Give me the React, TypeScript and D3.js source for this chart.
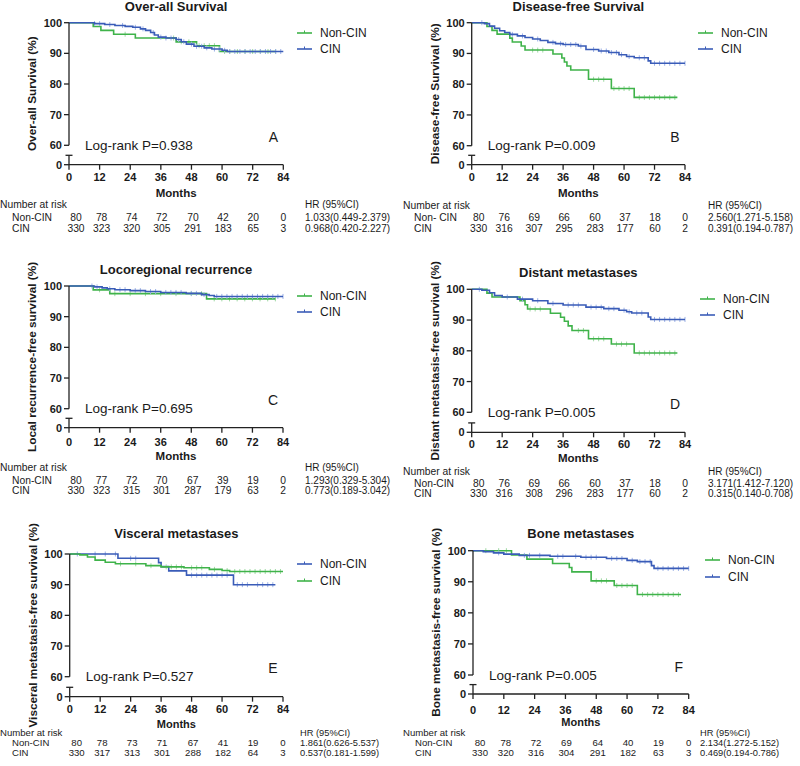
import React from "react";
import * as d3 from "d3";

// ---------- DATA ----------
const months = [0, 12, 24, 36, 48, 60, 72, 84];
const yTicks = [60, 70, 80, 90, 100];

const titles = ["Over-all Survival", "Disease-free Survival", "Locoregional recurrence", "Distant metastases", "Visceral metastases", "Bone metastases"];
const yLabels = ["Over-all Survival (%)", "Disease-free Survival (%)", "Local recurrence-free survival (%)", "Distant metastasis-free survival (%)", "Visceral metastasis-free survival (%)", "Bone metastasis-free survival (%)"];
const pValues = ["0.938", "0.009", "0.695", "0.005", "0.527", "0.005"];
const letters = ["A", "B", "C", "D", "E", "F"];
const nonLabels = ["Non-CIN", "Non- CIN", "Non-CIN", "Non-CIN", "Non-CIN", "Non-CIN"];

// Non-CIN curves (step times, survival %)
const A_non_t = [0, 9.5, 12.5, 17.5, 26, 42, 50, 59];
const A_non_s = [100, 98.75, 97.5, 96.25, 95, 93.75, 92.5, 90.6];
const B_non_t = [0, 6, 8, 10, 15, 16, 19.5, 21, 32, 35.5, 36.5, 37.5, 39, 46, 55, 64];
const B_non_s = [100, 98.75, 97.5, 96.3, 95, 93.7, 92.4, 91.1, 89.8, 88.5, 87.2, 85.9, 84.6, 81.6, 78.6, 75.7];
const C_non_t = [0, 9.5, 16, 54];
const C_non_s = [100, 98.75, 97.5, 95.8];
const D_non_t = [0, 6, 8, 19, 21, 22, 31, 35, 36.5, 38, 39.5, 46, 55, 64];
const D_non_s = [100, 98.75, 97.5, 96.3, 95, 93.6, 92.2, 90.9, 89.6, 88.1, 86.6, 83.9, 82.2, 79.3];
const E_non_t = [0, 19, 35, 36, 39, 46, 64.5];
const E_non_s = [100, 98.6, 97.2, 95.9, 94.5, 93.1, 90.0];
const F_non_t = [0, 15, 21, 31, 37.5, 38.5, 46, 55, 64];
const F_non_s = [100, 98.6, 97.3, 95.9, 94.6, 93.2, 90.3, 88.8, 85.9];

// CIN curves
const A_cin_t = [0, 10, 14, 18, 22, 25, 28, 30, 32, 33.5, 35, 38, 42, 44, 46, 49, 53, 56, 60, 62];
const A_cin_s = [100, 99.7, 99.4, 99.1, 98.8, 98.5, 98.0, 97.5, 96.8, 96.0, 95.3, 95.0, 94.5, 93.8, 93.0, 92.3, 91.8, 91.4, 91.0, 90.6];
const B_cin_t = [0, 5, 7, 9, 11, 13, 15, 18, 21, 24, 27, 30, 33, 36, 42, 45, 50, 54, 58, 61, 64, 69.5, 70.5];
const B_cin_s = [100, 99.7, 98.9, 98.2, 97.4, 96.8, 96.2, 95.7, 95.2, 94.7, 94.2, 93.6, 93.2, 92.9, 92.4, 91.3, 90.8, 90.3, 89.6, 89.0, 88.6, 87.6, 86.8];
const C_cin_t = [0, 10, 13, 15, 18, 24, 30, 36, 46, 52, 55, 57];
const C_cin_s = [100, 99.7, 99.4, 99.1, 98.8, 98.5, 98.2, 97.9, 97.6, 97.2, 96.9, 96.6];
const D_cin_t = [0, 4, 7, 9, 12, 18, 24, 30, 36, 45, 52, 58, 61, 63, 69.5, 70.5];
const D_cin_s = [100, 99.7, 98.9, 98.0, 97.5, 96.8, 96.3, 95.4, 94.9, 94.2, 93.7, 93.2, 92.7, 92.3, 91.0, 90.2];
const E_cin_t = [0, 4, 7, 10, 14, 18, 30, 36, 45, 55, 60, 63];
const E_cin_s = [100, 99.7, 99.0, 98.0, 97.3, 96.8, 96.2, 95.8, 95.5, 95.0, 94.6, 94.3];
const F_cin_t = [0, 4, 8, 12, 18, 30, 42, 52, 60, 64, 69.5, 70.5];
const F_cin_s = [100, 99.7, 99.3, 98.9, 98.5, 98.2, 97.9, 97.5, 96.9, 96.5, 95.2, 94.3];

const nonEnd = 81;
const cinEnd = 84;

// censor times
const A_non_c = [22, 41, 44, 47, 51, 53, 55, 57, 61, 63, 66, 69, 72, 75, 78, 81];
const A_cin_c = [10, 12, 16, 21, 26, 29, 33, 36, 38, 40, 43, 45, 48, 50, 52, 54, 57, 59, 61, 63, 65, 67, 69, 71, 73, 75, 77, 79, 81, 83];
const B_non_c = [24, 26, 28, 48, 50, 52, 56, 58, 60, 62, 66, 68, 70, 72, 74, 76, 78, 80];
const B_cin_c = [4, 16, 20, 26, 32, 35, 37, 39, 41, 43, 48, 51, 53, 55, 57, 59, 62, 66, 68, 72, 74, 76, 78, 80, 82, 84];
const C_non_c = [12, 18, 24, 30, 36, 42, 48, 52, 57, 60, 63, 66, 69, 72, 75, 78, 81];
const C_cin_c = [9, 11, 16, 20, 22, 26, 28, 32, 34, 38, 40, 42, 44, 48, 50, 53, 58, 60, 62, 64, 66, 68, 70, 72, 74, 76, 78, 80, 82, 84];
const D_non_c = [23, 25, 27, 42, 44, 48, 50, 52, 57, 59, 61, 66, 68, 70, 72, 74, 76, 78, 80];
const D_cin_c = [3, 14, 20, 26, 32, 38, 40, 42, 47, 49, 51, 54, 56, 60, 62, 65, 67, 72, 74, 76, 78, 80, 82, 84];
const E_non_c = [3, 10, 14, 18, 24, 26, 48, 50, 52, 54, 56, 58, 60, 62, 66, 68, 70, 74, 76, 78, 80];
const E_cin_c = [20, 26, 32, 38, 40, 42, 44, 48, 50, 52, 57, 62, 65, 67, 69, 71, 73, 75, 77, 79, 81, 83];
const F_non_c = [5, 10, 13, 48, 50, 52, 56, 58, 60, 62, 66, 68, 70, 72, 74, 76, 78, 80];
const F_cin_c = [10, 20, 22, 26, 33, 35, 40, 44, 46, 48, 54, 56, 58, 62, 65, 67, 69, 72, 74, 76, 78, 80, 82, 84];

// numbers at risk
const A_risk_non = [80, 78, 74, 72, 70, 42, 20, 0];
const A_risk_cin = [330, 323, 320, 305, 291, 183, 65, 3];
const B_risk_non = [80, 76, 69, 66, 60, 37, 18, 0];
const B_risk_cin = [330, 316, 307, 295, 283, 177, 60, 2];
const C_risk_non = [80, 77, 72, 70, 67, 39, 19, 0];
const C_risk_cin = [330, 323, 315, 301, 287, 179, 63, 2];
const D_risk_non = [80, 76, 69, 66, 60, 37, 18, 0];
const D_risk_cin = [330, 316, 308, 296, 283, 177, 60, 2];
const E_risk_non = [80, 78, 73, 71, 67, 41, 19, 0];
const E_risk_cin = [330, 317, 313, 301, 288, 182, 64, 3];
const F_risk_non = [80, 78, 72, 69, 64, 40, 19, 0];
const F_risk_cin = [330, 320, 316, 304, 291, 182, 63, 3];

const hrNon = ["1.033(0.449-2.379)", "2.560(1.271-5.158)", "1.293(0.329-5.304)", "3.171(1.412-7.120)", "1.861(0.626-5.537)", "2.134(1.272-5.152)"];
const hrCin = ["0.968(0.420-2.227)", "0.391(0.194-0.787)", "0.773(0.189-3.042)", "0.315(0.140-0.708)", "0.537(0.181-1.599)", "0.469(0.194-0.786)"];

// ---------- STYLE / LAYOUT ----------
const GREEN = "#3fb34a";
const BLUE = "#3a5cb8";
const GREEN_L = "#9fd9a3";
const BLUE_L = "#9bb0e6";
const FONT = "'Liberation Sans', Arial, sans-serif";
const TXT = "#1a1a1a";

const layouts = [
  { x0: 69, x1: 283.3, y100: 22.7, y60: 145.3, y0: 164.7, titleY: 10.5, legX: 297, legY: [33, 49], tickY: 181, monthsY: 196.5, narY: 208, nonY: 220.5, cinY: 232, narX: 0, labX: 12, hrX: 305, tf: 10.3, mf: 11.5 },
  { x0: 471.7, x1: 685, y100: 22.7, y60: 145.7, y0: 164.7, titleY: 10.5, legX: 698, legY: [33, 49], tickY: 181, monthsY: 196.5, narY: 209, nonY: 220.7, cinY: 231.7, narX: 403, labX: 414, hrX: 708, tf: 10.3, mf: 11.5 },
  { x0: 69, x1: 283, y100: 286, y60: 408.7, y0: 427.7, titleY: 274, legX: 297, legY: [296, 312], tickY: 445.7, monthsY: 460, narY: 470.7, nonY: 484, cinY: 494, narX: 0, labX: 12, hrX: 305, tf: 10.3, mf: 11.5 },
  { x0: 471.7, x1: 685, y100: 289.3, y60: 412.3, y0: 432.3, titleY: 277, legX: 700, legY: [299, 315], tickY: 447.5, monthsY: 462.3, narY: 474.7, nonY: 486.5, cinY: 496.5, narX: 403, labX: 414, hrX: 708, tf: 10.3, mf: 11.5 },
  { x0: 69.7, x1: 283, y100: 554, y60: 676.7, y0: 696.7, titleY: 538, legX: 297, legY: [564, 581], tickY: 713.3, monthsY: 727.5, narY: 736, nonY: 746, cinY: 756, narX: 0, labX: 12, hrX: 300, tf: 9.6, mf: 11 },
  { x0: 473, x1: 688.7, y100: 550.7, y60: 675, y0: 694, titleY: 538, legX: 705, legY: [560, 577], tickY: 713.5, monthsY: 726, narY: 735.5, nonY: 745.5, cinY: 755.5, narX: 403, labX: 415, hrX: 700, tf: 9.6, mf: 11 },
];
const colShift = [7, 2, 1.5, 1, 1.5, 1, 0.5, 0];

const panels = [
  { non: [A_non_t, A_non_s, A_non_c], cin: [A_cin_t, A_cin_s, A_cin_c], rn: A_risk_non, rc: A_risk_cin, nonBlue: false },
  { non: [B_non_t, B_non_s, B_non_c], cin: [B_cin_t, B_cin_s, B_cin_c], rn: B_risk_non, rc: B_risk_cin, nonBlue: false },
  { non: [C_non_t, C_non_s, C_non_c], cin: [C_cin_t, C_cin_s, C_cin_c], rn: C_risk_non, rc: C_risk_cin, nonBlue: false },
  { non: [D_non_t, D_non_s, D_non_c], cin: [D_cin_t, D_cin_s, D_cin_c], rn: D_risk_non, rc: D_risk_cin, nonBlue: false },
  { non: [E_non_t, E_non_s, E_non_c], cin: [E_cin_t, E_cin_s, E_cin_c], rn: E_risk_non, rc: E_risk_cin, nonBlue: true },
  { non: [F_non_t, F_non_s, F_non_c], cin: [F_cin_t, F_cin_s, F_cin_c], rn: F_risk_non, rc: F_risk_cin, nonBlue: false },
];

function survAt(t: number[], s: number[], c: number) {
  let v = s[0];
  for (let i = 0; i < t.length; i++) if (t[i] <= c) v = s[i];
  return v;
}

function Curve({ t, s, c, end, x, y, color, light }: any) {
  const pts: [number, number][] = t.map((tt: number, i: number) => [tt, s[i]]);
  pts.push([end, s[s.length - 1]]);
  const line = d3.line<[number, number]>().x((d) => x(d[0])).y((d) => y(d[1])).curve(d3.curveStepAfter);
  return (
    <g>
      {c.filter((cc: number) => cc <= end).map((cc: number, i: number) => {
        const yy = y(survAt(t, s, cc));
        return <line key={i} x1={x(cc)} x2={x(cc)} y1={yy - 2.5} y2={yy + 2.5} stroke={light} strokeWidth={1} />;
      })}
      <path d={line(pts) || ""} fill="none" stroke={color} strokeWidth={1.6} />
    </g>
  );
}

function Panel({ i }: { i: number }) {
  const L = layouts[i];
  const P = panels[i];
  const x = d3.scaleLinear().domain([0, 84]).range([L.x0, L.x1]);
  const y = d3.scaleLinear().domain([60, 100]).range([L.y60, L.y100]);
  const nonColor = P.nonBlue ? BLUE : GREEN;
  const cinColor = P.nonBlue ? GREEN : BLUE;
  const nonLight = P.nonBlue ? BLUE_L : GREEN_L;
  const cinLight = P.nonBlue ? GREEN_L : BLUE_L;
  const axisStyle = { stroke: "#222", strokeWidth: 1.3 };
  const capY = L.y0 - 9.4;
  const labelCY = (L.y100 + L.y0) / 2;
  return (
    <g fontFamily={FONT} fill={TXT}>
      <text x={(L.x0 + L.x1) / 2} y={L.titleY} textAnchor="middle" fontWeight="bold" fontSize={13}>{titles[i]}</text>
      <text transform={`translate(${L.x0 - 33},${labelCY}) rotate(-90)`} textAnchor="middle" fontWeight="bold" fontSize={11.8}>{yLabels[i]}</text>

      {/* curves */}
      <Curve t={P.non[0]} s={P.non[1]} c={P.non[2]} end={nonEnd} x={x} y={y} color={nonColor} light={nonLight} />
      <Curve t={P.cin[0]} s={P.cin[1]} c={P.cin[2]} end={cinEnd} x={x} y={y} color={cinColor} light={cinLight} />

      {/* y axis */}
      <line x1={L.x0} x2={L.x0} y1={y(100)} y2={y(60)} {...axisStyle} />
      {yTicks.map((t) => (
        <g key={t}>
          <line x1={L.x0 - 5} x2={L.x0} y1={y(t)} y2={y(t)} {...axisStyle} />
          <text x={L.x0 - 7} y={y(t) + 4} textAnchor="end" fontWeight="bold" fontSize={11}>{t}</text>
        </g>
      ))}
      <line x1={L.x0} x2={L.x0} y1={capY} y2={L.y0} {...axisStyle} />
      <line x1={L.x0 - 3.5} x2={L.x0 + 3.5} y1={capY} y2={capY} {...axisStyle} />
      <line x1={L.x0 - 5} x2={L.x0} y1={L.y0} y2={L.y0} {...axisStyle} />
      <text x={L.x0 - 7} y={L.y0 + 4} textAnchor="end" fontWeight="bold" fontSize={11}>0</text>

      {/* x axis */}
      <line x1={L.x0} x2={L.x1} y1={L.y0} y2={L.y0} {...axisStyle} />
      {months.map((m) => (
        <g key={m}>
          <line x1={x(m)} x2={x(m)} y1={L.y0} y2={L.y0 + 5} {...axisStyle} />
          <text x={x(m)} y={L.tickY} textAnchor="middle" fontWeight="bold" fontSize={11}>{m}</text>
        </g>
      ))}
      <text x={(L.x0 + L.x1) / 2} y={L.monthsY} textAnchor="middle" fontWeight="bold" fontSize={L.mf}>Months</text>

      {/* annotations */}
      <text x={L.x0 + 16} y={L.y60 + 4.5} fontSize={13.5}>{`Log-rank P=${pValues[i]}`}</text>
      <text x={L.x1 - 10} y={L.y60 - 3.3} textAnchor="middle" fontSize={14}>{letters[i]}</text>

      {/* legend */}
      {[["Non-CIN", nonColor], ["CIN", cinColor]].map(([lab, col], k) => (
        <g key={k}>
          <line x1={L.legX} x2={L.legX + 15} y1={L.legY[k]} y2={L.legY[k]} stroke={col} strokeWidth={1.6} />
          <line x1={L.legX + 7.5} x2={L.legX + 7.5} y1={L.legY[k] - 2.5} y2={L.legY[k]} stroke={col} strokeWidth={1} />
          <text x={L.legX + 23} y={L.legY[k] + 4.3} fontSize={12}>{lab}</text>
        </g>
      ))}

      {/* number at risk table */}
      <text x={L.narX} y={L.narY} fontSize={L.tf}>Number at risk</text>
      <text x={L.labX} y={L.nonY} fontSize={L.tf}>{nonLabels[i]}</text>
      <text x={L.labX} y={L.cinY} fontSize={L.tf}>CIN</text>
      {months.map((m, k) => (
        <g key={m}>
          <text x={x(m) + colShift[k]} y={L.nonY} textAnchor="middle" fontSize={L.tf}>{P.rn[k]}</text>
          <text x={x(m) + colShift[k]} y={L.cinY} textAnchor="middle" fontSize={L.tf}>{P.rc[k]}</text>
        </g>
      ))}
      <text x={L.hrX} y={L.narY} fontSize={L.tf - 0.3}>HR (95%CI)</text>
      <text x={L.hrX} y={L.nonY} fontSize={L.tf - 0.3}>{hrNon[i]}</text>
      <text x={L.hrX} y={L.cinY} fontSize={L.tf - 0.3}>{hrCin[i]}</text>
    </g>
  );
}

export default function App() {
  return (
    <svg width={800} height={766} style={{ position: "absolute", left: 0, top: 0, background: "#fff" }}>
      <rect width={800} height={766} fill="#fff" />
      {layouts.map((_, i) => (
        <Panel key={i} i={i} />
      ))}
    </svg>
  );
}
